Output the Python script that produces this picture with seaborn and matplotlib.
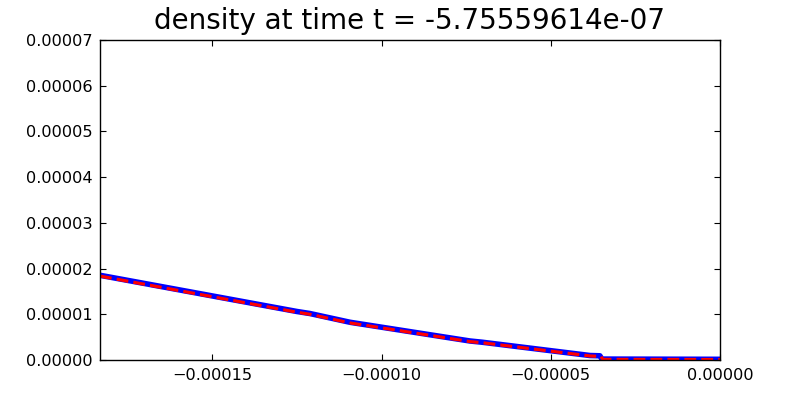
import numpy as np
import pandas as pd
import matplotlib
matplotlib.use("Agg")
import matplotlib.pyplot as plt
import seaborn as sns

# Values
x_num = [-1.832e-4, -1.250e-4, -1.212e-4, -1.093e-4, -7.39e-5, -7.03e-5,
         -3.84e-5, -3.55e-5, -3.49e-5, 0.0]
rho_num = [1.853e-5, 1.061e-5, 1.017e-5, 8.25e-6, 4.16e-6, 3.89e-6,
           9.8e-7, 9.2e-7, 2.0e-7, 1.5e-7]

x_ref = [-1.832e-4, -1.250e-4, -1.212e-4, -1.093e-4, -7.39e-5, -7.03e-5,
         -3.84e-5, -3.52e-5, -3.46e-5, 0.0]
rho_ref = [1.835e-5, 1.045e-5, 1.00e-5, 8.1e-6, 4.03e-6, 3.78e-6,
           8.8e-7, 7.8e-7, 1.3e-7, 1.0e-7]

t = -5.75559614e-07

sns.set_style("white")
plt.rcParams.update({
    'font.family': ['DejaVu Sans'],
    'font.size': 12,
    'text.color': 'black',
    'axes.titlecolor': 'black',
    'xtick.direction': 'in',
    'ytick.direction': 'in',
    'xtick.top': True,
    'ytick.right': True,
    'xtick.bottom': True,
    'ytick.left': True,
    'xtick.major.size': 4,
    'ytick.major.size': 4,
    'xtick.major.pad': 6,
    'ytick.major.pad': 5,
    'xtick.labelsize': 11.6,
    'ytick.labelsize': 11.6,
    'xtick.color': 'black',
    'ytick.color': 'black',
    'axes.edgecolor': 'black',
    'axes.linewidth': 1.0,
    'axes.formatter.limits': [-7, 7],
    'axes.formatter.useoffset': False,
})

df_num = pd.DataFrame({'x': x_num, 'rho': rho_num})
df_ref = pd.DataFrame({'x': x_ref, 'rho': rho_ref})

fig = plt.figure(figsize=(8, 4), dpi=100)
ax = fig.add_axes([0.125, 0.1, 0.775, 0.8])

sns.lineplot(data=df_num, x='x', y='rho', ax=ax, color='blue', lw=4,
             estimator=None, sort=False)
sns.lineplot(data=df_ref, x='x', y='rho', ax=ax, color='red', lw=2.3,
             linestyle='--', estimator=None, sort=False)

ax.set_xlim(-1.832e-4, 0)
ax.set_ylim(0, 7e-5)
ax.set_xticks([-1.5e-4, -1.0e-4, -5e-5, 0])
ax.set_yticks(np.arange(0, 8e-5, 1e-5))
ax.set_xlabel('')
ax.set_ylabel('')
ax.set_title(f"density at time t = {t}", fontsize=20, pad=8)
for s in ax.spines.values():
    s.set_visible(True)

fig.savefig("out.png", dpi=100)
plt.close(fig)
